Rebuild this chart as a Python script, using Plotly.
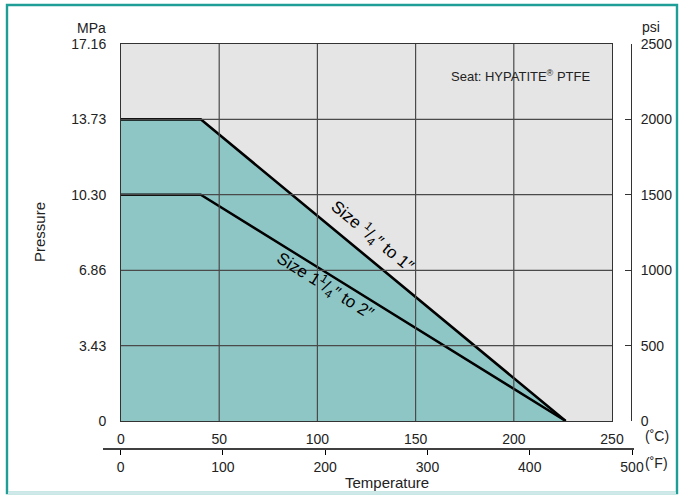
import plotly.graph_objects as go

# ---- data ----
temp_c = [0, 40.6, 226.4]
p_small = [13.73, 13.73, 0]      # Size 1/4" to 1"
p_large = [10.30, 10.30, 0]      # Size 1 1/4" to 2"

c_ticks = [0, 50, 100, 150, 200, 250]
f_ticks = [0, 100, 200, 300, 400, 500]
mpa_ticks = [0, 3.43, 6.86, 10.30, 13.73, 17.16]
mpa_labels = ["0", "3.43", "6.86", "10.30", "13.73", "17.16"]
psi_ticks = [0, 500, 1000, 1500, 2000, 2500]

FONT = "Liberation Sans, Arial, Helvetica, sans-serif"
TXT = "#222222"
TEAL_FILL = "#8ec6c6"
BG = "#e5e5e5"
GRID = "#4a4a4a"
FRAME = "#1e9e96"

W, H = 680, 496
ML, MR, MT, MB = 100, 40, 44, 36
PW, PH = W - ML - MR, H - MT - MB


def ux(px):
    return (px - ML) / PW


def vy(py):
    return (H - MB - py) / PH


fig = go.Figure()

fig.add_trace(go.Scatter(
    x=temp_c, y=p_small, mode="lines", fill="tozeroy", fillcolor=TEAL_FILL,
    line=dict(color="black", width=2.6), hoverinfo="skip", showlegend=False))
fig.add_trace(go.Scatter(
    x=temp_c, y=p_large, mode="lines",
    line=dict(color="black", width=2.4), hoverinfo="skip", showlegend=False))
# invisible traces to activate secondary axes
fig.add_trace(go.Scatter(x=[0, 250], y=[0, 2500], yaxis="y2", mode="markers",
                         marker=dict(opacity=0), hoverinfo="skip", showlegend=False))
fig.add_trace(go.Scatter(x=[0, 500], y=[0, 0], xaxis="x2", yaxis="y3", mode="markers",
                         marker=dict(opacity=0), hoverinfo="skip", showlegend=False))

shapes = []
# plot background
shapes.append(dict(type="rect", xref="x domain", yref="y domain", x0=0, x1=1, y0=0, y1=1,
                   fillcolor=BG, line=dict(width=0), layer="below"))
# gridlines above the fill
for t in c_ticks[1:-1]:
    shapes.append(dict(type="line", xref="x", yref="y", x0=t, x1=t, y0=0, y1=mpa_ticks[-1],
                       line=dict(color=GRID, width=1.2), layer="above"))
for p in mpa_ticks[1:-1]:
    shapes.append(dict(type="line", xref="x", yref="y", x0=0, x1=c_ticks[-1], y0=p, y1=p,
                       line=dict(color=GRID, width=1.2), layer="above"))
# Fahrenheit axis line
shapes.append(dict(type="line", xref="paper", yref="paper", x0=ux(103), x1=ux(634),
                   y0=vy(449), y1=vy(449), line=dict(color="black", width=1.3)))
# outer frame
shapes.append(dict(type="rect", xref="paper", yref="paper", x0=ux(7), x1=ux(677),
                   y0=vy(493), y1=vy(5), fillcolor="rgba(0,0,0,0)",
                   line=dict(color=FRAME, width=2.4), layer="above"))
shapes.append(dict(type="line", xref="paper", yref="paper", x0=ux(8), x1=ux(676),
                   y0=vy(493), y1=vy(493), line=dict(color="#cfe9ea", width=2.4),
                   layer="above"))

tf = dict(family=FONT, size=14, color=TXT)
lf = dict(family=FONT, size=15, color=TXT)

annotations = [
    dict(text="MPa", x=ux(108), y=vy(28), xref="paper", yref="paper", xanchor="right",
         yanchor="middle", showarrow=False, font=tf),
    dict(text="psi", x=ux(640), y=vy(27), xref="paper", yref="paper", xanchor="left",
         yanchor="middle", showarrow=False, font=tf),
    dict(text="Pressure", x=ux(40), y=vy(232), xref="paper", yref="paper", textangle=-90,
         xanchor="center", yanchor="middle", showarrow=False, font=lf),
    dict(text="Temperature", x=ux(387), y=vy(482), xref="paper", yref="paper",
         xanchor="center", yanchor="middle", showarrow=False, font=lf),
    dict(text="(˚C)", x=ux(657), y=vy(436), xref="paper", yref="paper",
         xanchor="center", yanchor="middle", showarrow=False, font=tf),
    dict(text="(˚F)", x=ux(656), y=vy(463), xref="paper", yref="paper",
         xanchor="center", yanchor="middle", showarrow=False, font=tf),
    dict(text="Seat: HYPATITE<sup>®</sup> PTFE", x=ux(520), y=vy(76), xref="paper",
         yref="paper", xanchor="center", yanchor="middle", showarrow=False,
         font=dict(family=FONT, size=13, color=TXT)),
    dict(text="Size <sup>1</sup>/<sub>4</sub>″ to 1″", x=128.3, y=8.4, xref="x", yref="y",
         textangle=39.5, xanchor="center", yanchor="middle", showarrow=False,
         font=dict(family=FONT, size=17, color="black")),
    dict(text="Size 1<sup>1</sup>/<sub>4</sub>″ to 2″", x=103.9, y=6.15, xref="x", yref="y",
         textangle=32, xanchor="center", yanchor="middle", showarrow=False,
         font=dict(family=FONT, size=17, color="black")),
]

fig.update_layout(
    width=W, height=H,
    margin=dict(l=ML, r=MR, t=MT, b=MB, autoexpand=False),
    paper_bgcolor="white", plot_bgcolor="rgba(0,0,0,0)",
    font=dict(family=FONT, size=14, color=TXT),
    showlegend=False,
    xaxis=dict(domain=[ux(121), ux(612)], range=[0, 250], tickvals=c_ticks,
               showgrid=False, zeroline=False, showline=True, mirror=True,
               linecolor="#333333", linewidth=1, ticks="outside", ticklen=5,
               tickcolor="rgba(0,0,0,0)", tickfont=tf, anchor="y", fixedrange=True,
               automargin=False),
    yaxis=dict(domain=[vy(421), 1], range=[0, 17.16], tickvals=mpa_ticks, ticktext=mpa_labels,
               showgrid=False, zeroline=False, showline=True, mirror=True,
               linecolor="#333333", linewidth=1, ticks="outside", ticklen=11,
               tickcolor="rgba(0,0,0,0)", tickfont=tf, anchor="x", fixedrange=True,
               automargin=False),
    yaxis2=dict(overlaying="y", side="right", anchor="free", position=ux(631),
                range=[0, 2500], tickvals=psi_ticks, showgrid=False, zeroline=False,
                showline=True, linecolor="#333333", linewidth=1, ticks="inside",
                ticklen=6, tickcolor="#333333", tickfont=tf, ticklabelstandoff=6,
                fixedrange=True, automargin=False),
    xaxis2=dict(domain=[ux(120.7), ux(632)], anchor="free", position=vy(449),
                range=[0, 500], tickvals=f_ticks, showgrid=False, zeroline=False,
                showline=False, ticks="outside", ticklen=5, tickcolor="black",
                tickfont=tf, fixedrange=True, automargin=False),
    yaxis3=dict(domain=[0, 0.01], anchor="x2", visible=False, range=[0, 1], fixedrange=True),
    shapes=shapes,
    annotations=annotations,
)

fig.write_html("out.html", config={"displayModeBar": False, "staticPlot": True},
               post_script="document.body.style.margin='0';document.body.style.overflow='hidden';")
